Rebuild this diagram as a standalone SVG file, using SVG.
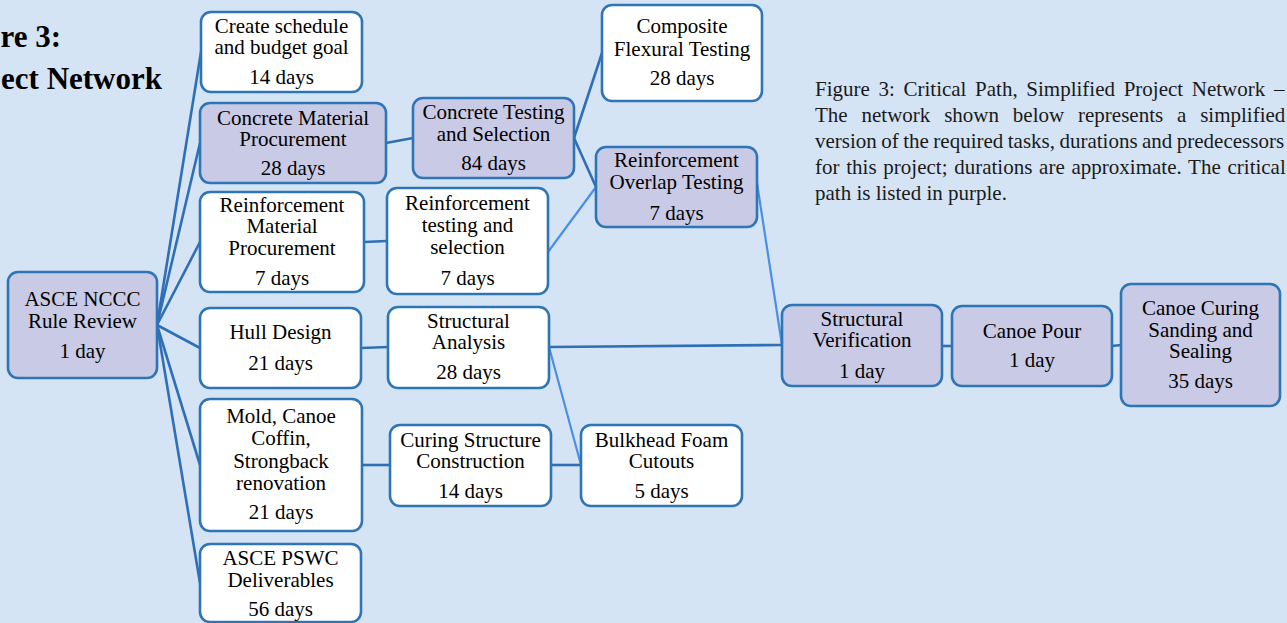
<svg xmlns="http://www.w3.org/2000/svg" width="1287" height="623" viewBox="0 0 1287 623">
<defs>
<style>
.bg{fill:#D5E4F5}
.box{fill:#FFFFFF;stroke:#2E75B6;stroke-width:2.6}
.crit{fill:#C9CAE6;stroke:#2E75B6;stroke-width:2.6}
.t{font-family:"Liberation Serif","Times New Roman",serif;font-size:21px;fill:#000;text-anchor:middle}
.title{font-family:"Liberation Serif","Times New Roman",serif;font-size:31px;font-weight:bold;fill:#000;text-anchor:end}
.p{font-family:"Liberation Serif","Times New Roman",serif;font-size:21px;fill:#1a1a1a}
.dk{stroke:#2E6FB5;stroke-width:2.6;fill:none}
.lt{stroke:#4A8FE6;stroke-width:2.2;fill:none}
</style>
</defs>
<rect class="bg" x="0" y="0" width="1287" height="623"/>
<g id="title">
<text class="title" x="61" y="47">re 3:</text>
<text class="title" x="162" y="89">ect Network</text>
</g>
<g id="caption">
<text class="p" x="815" y="96" word-spacing="3.4">Figure 3: Critical Path, Simplified Project Network –</text>
<text class="p" x="815" y="122" word-spacing="8.6">The network shown below represents a simplified</text>
<text class="p" x="815" y="148" word-spacing="-0.8">version of the required tasks, durations and predecessors</text>
<text class="p" x="815" y="174" word-spacing="1.5">for this project; durations are approximate. The critical</text>
<text class="p" x="815" y="200">path is listed in purple.</text>
</g>
<g id="connectors">
<line class="dk" x1="157" y1="325" x2="201" y2="52"/>
<line class="dk" x1="157" y1="325" x2="200" y2="143"/>
<line class="dk" x1="157" y1="325" x2="200" y2="242"/>
<line class="dk" x1="157" y1="325" x2="200" y2="348"/>
<line class="dk" x1="157" y1="325" x2="200" y2="465"/>
<line class="dk" x1="157" y1="325" x2="200" y2="583"/>
<line class="dk" x1="386" y1="143" x2="413" y2="138"/>
<line class="dk" x1="364" y1="242" x2="387" y2="241"/>
<line class="dk" x1="361" y1="348" x2="388" y2="347"/>
<line class="dk" x1="362" y1="465" x2="390" y2="465"/>
<line class="dk" x1="551" y1="465" x2="581" y2="465"/>
<line class="dk" x1="574" y1="138" x2="602" y2="53"/>
<line class="dk" x1="574" y1="138" x2="596" y2="187"/>
<line class="lt" x1="548" y1="252" x2="596" y2="187"/>
<line class="lt" x1="757" y1="183" x2="782" y2="345"/>
<line class="dk" x1="549" y1="347" x2="782" y2="345"/>
<line class="lt" x1="549" y1="347" x2="581" y2="465"/>
<line class="dk" x1="942" y1="346" x2="952" y2="346"/>
<line class="dk" x1="1112" y1="346" x2="1121" y2="345"/>
</g>
<g id="n-nccc">
<rect class="crit" x="8" y="272" width="149" height="106" rx="10"/>
<text class="t" x="82.5" y="306">ASCE NCCC</text>
<text class="t" x="82.5" y="328">Rule Review</text>
<text class="t" x="82.5" y="358">1 day</text>
</g>
<g id="n-schedule">
<rect class="box" x="201" y="12" width="161" height="80" rx="10"/>
<text class="t" x="281.5" y="33">Create schedule</text>
<text class="t" x="281.5" y="54">and budget goal</text>
<text class="t" x="281.5" y="84">14 days</text>
</g>
<g id="n-concrete-material">
<rect class="crit" x="200" y="103" width="186" height="80" rx="10"/>
<text class="t" x="293" y="125">Concrete Material</text>
<text class="t" x="293" y="146">Procurement</text>
<text class="t" x="293" y="175">28 days</text>
</g>
<g id="n-reinf-material">
<rect class="box" x="200" y="192" width="164" height="100" rx="10"/>
<text class="t" x="282" y="212">Reinforcement</text>
<text class="t" x="282" y="233">Material</text>
<text class="t" x="282" y="255">Procurement</text>
<text class="t" x="282" y="285">7 days</text>
</g>
<g id="n-hull">
<rect class="box" x="200" y="308" width="161" height="80" rx="10"/>
<text class="t" x="280.5" y="339">Hull Design</text>
<text class="t" x="280.5" y="370">21 days</text>
</g>
<g id="n-mold">
<rect class="box" x="200" y="399" width="162" height="132" rx="10"/>
<text class="t" x="281" y="423">Mold, Canoe</text>
<text class="t" x="281" y="445">Coffin,</text>
<text class="t" x="281" y="468">Strongback</text>
<text class="t" x="281" y="490">renovation</text>
<text class="t" x="281" y="519">21 days</text>
</g>
<g id="n-pswc">
<rect class="box" x="200" y="544" width="161" height="78" rx="10"/>
<text class="t" x="280.5" y="565">ASCE PSWC</text>
<text class="t" x="280.5" y="587">Deliverables</text>
<text class="t" x="280.5" y="616">56 days</text>
</g>
<g id="n-concrete-testing">
<rect class="crit" x="413" y="98" width="161" height="80" rx="10"/>
<text class="t" x="493.5" y="119">Concrete Testing</text>
<text class="t" x="493.5" y="141">and Selection</text>
<text class="t" x="493.5" y="170">84 days</text>
</g>
<g id="n-reinf-testing">
<rect class="box" x="387" y="188" width="161" height="106" rx="10"/>
<text class="t" x="467.5" y="210">Reinforcement</text>
<text class="t" x="467.5" y="232">testing and</text>
<text class="t" x="467.5" y="254">selection</text>
<text class="t" x="467.5" y="285">7 days</text>
</g>
<g id="n-composite">
<rect class="box" x="602" y="5" width="160" height="96" rx="10"/>
<text class="t" x="682" y="33">Composite</text>
<text class="t" x="682" y="56">Flexural Testing</text>
<text class="t" x="682" y="85">28 days</text>
</g>
<g id="n-overlap">
<rect class="crit" x="596" y="147" width="161" height="80" rx="10"/>
<text class="t" x="676.5" y="167">Reinforcement</text>
<text class="t" x="676.5" y="189">Overlap Testing</text>
<text class="t" x="676.5" y="220">7 days</text>
</g>
<g id="n-structural-analysis">
<rect class="box" x="388" y="307" width="161" height="81" rx="10"/>
<text class="t" x="468.5" y="328">Structural</text>
<text class="t" x="468.5" y="349">Analysis</text>
<text class="t" x="468.5" y="379">28 days</text>
</g>
<g id="n-curing-structure">
<rect class="box" x="390" y="425" width="161" height="81" rx="10"/>
<text class="t" x="470.5" y="447">Curing Structure</text>
<text class="t" x="470.5" y="468">Construction</text>
<text class="t" x="470.5" y="498">14 days</text>
</g>
<g id="n-bulkhead">
<rect class="box" x="581" y="425" width="161" height="81" rx="10"/>
<text class="t" x="661.5" y="447">Bulkhead Foam</text>
<text class="t" x="661.5" y="468">Cutouts</text>
<text class="t" x="661.5" y="498">5 days</text>
</g>
<g id="n-verification">
<rect class="crit" x="782" y="305" width="160" height="81" rx="10"/>
<text class="t" x="862" y="326">Structural</text>
<text class="t" x="862" y="347">Verification</text>
<text class="t" x="862" y="378">1 day</text>
</g>
<g id="n-pour">
<rect class="crit" x="952" y="306" width="160" height="80" rx="10"/>
<text class="t" x="1032" y="338">Canoe Pour</text>
<text class="t" x="1032" y="367">1 day</text>
</g>
<g id="n-curing">
<rect class="crit" x="1121" y="284" width="159" height="122" rx="10"/>
<text class="t" x="1200.5" y="315">Canoe Curing</text>
<text class="t" x="1200.5" y="337">Sanding and</text>
<text class="t" x="1200.5" y="358">Sealing</text>
<text class="t" x="1200.5" y="388">35 days</text>
</g>
</svg>
